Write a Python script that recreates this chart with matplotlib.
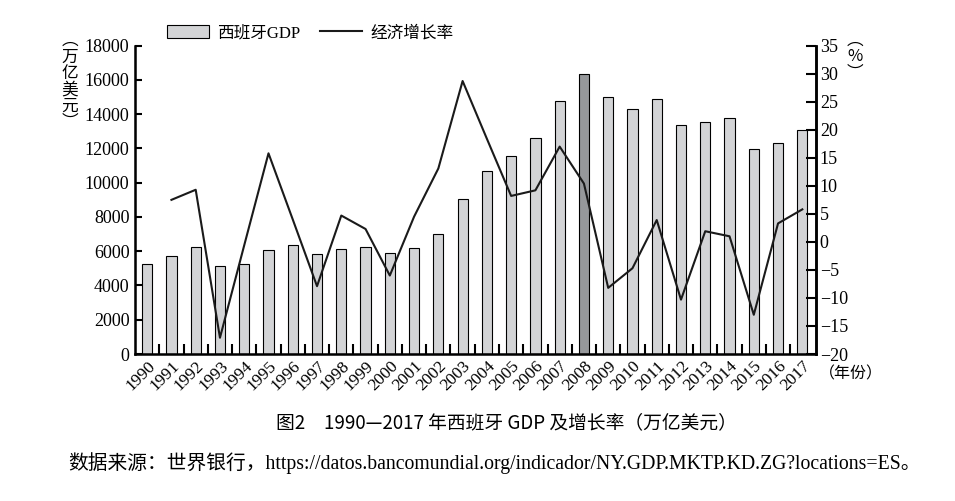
import matplotlib.pyplot as plt
from matplotlib.patches import Patch
from matplotlib.lines import Line2D

plt.rcParams['font.family'] = ['Liberation Serif', 'Noto Sans CJK SC']

years = [str(y) for y in range(1990, 2018)]
gdp = [5250, 5720, 6240, 5130, 5250, 6080, 6360, 5830, 6120, 6240,
       5890, 6180, 7000, 9040, 10670, 11550, 12600, 14750, 16330, 14990,
       14290, 14870, 13360, 13530, 13760, 11960, 12310, 13080]
growth = [None, 7.5, 9.3, -17.1, -0.6, 15.8, 4.0, -7.9, 4.7, 2.3,
          -6.0, 4.5, 13.1, 28.7, 18.4, 8.2, 9.2, 17.0, 10.4, -8.2,
          -4.7, 3.9, -10.3, 1.9, 1.0, -13.0, 3.3, 5.8]
highlight = '2008'

fig = plt.figure(figsize=(9.55, 5.01), dpi=100)
ax = fig.add_axes([0.1414, 0.2934, 0.7127, 0.6154])

x = list(range(len(years)))
colors = ['#96989b' if y == highlight else '#d3d4d6' for y in years]
ax.bar(x, gdp, width=0.42, color=colors, edgecolor='black', linewidth=0.8, zorder=2)
ax.set_xlim(-0.5, 27.55)
ax.set_ylim(0, 18000)
ax.set_yticks(range(0, 18001, 2000))
ax.set_xticks([i + 0.5 for i in range(27)])
ax.set_xticklabels([])
ax.set_xticks(x, minor=True)
ax.set_xticklabels(years, minor=True, rotation=45, ha='right', va='top',
                   rotation_mode='anchor', fontsize=12.5)
ax.tick_params(axis='x', which='major', direction='in', length=7, width=1.5)
ax.tick_params(axis='x', which='minor', length=0, pad=3)
ax.tick_params(axis='y', direction='in', length=5, width=1.5, labelsize=13, pad=4)
ax.spines['top'].set_visible(False)
for s in ['left', 'bottom', 'right']:
    ax.spines[s].set_linewidth(1.8)

ax2 = ax.twinx()
gx = [i for i, v in enumerate(growth) if v is not None]
gy = [v for v in growth if v is not None]
ax2.plot(gx, gy, color='#1a1a1a', linewidth=1.5, zorder=3)
ax2.set_ylim(-20, 35)
ax2.set_yticks(range(-20, 36, 5))
ax2.set_yticklabels([str(t).replace('-', '\u2212') for t in range(-20, 36, 5)])
ax2.tick_params(axis='y', direction='in', length=7, width=1.5, labelsize=13, pad=3)
ax2.spines['top'].set_visible(False)
ax2.spines['right'].set_linewidth(1.8)

cjk = ['Noto Sans CJK SC', 'DejaVu Sans']
fig.text(0.073, 0.936, '︵\n万\n亿\n美\n元\n︶', family=cjk, fontsize=12,
         ha='center', va='top', linespacing=0.95)
fig.text(0.895, 0.936, '︵\n%\n︶', family=cjk, fontsize=12,
         ha='center', va='top', linespacing=0.95)
fig.text(0.857, 0.254, '（年份）', family=cjk, fontsize=11.5, ha='left', va='center')

handles = [Patch(facecolor='#d3d4d6', edgecolor='black', linewidth=0.8),
           Line2D([0], [0], color='#1a1a1a', linewidth=1.5)]
fig.legend(handles, ['西班牙GDP', '经济增长率'], loc='center', ncol=2,
           bbox_to_anchor=(0.325, 0.934), frameon=False, fontsize=12,
           handlelength=2.5, handleheight=0.8, handletextpad=0.5, columnspacing=1.2)

fig.text(0.53, 0.157, '图2　1990—2017 年西班牙 GDP 及增长率（万亿美元）',
         family=cjk, fontsize=13.5, ha='center', va='center')
fig.text(0.071, 0.075,
         '数据来源：世界银行，https://datos.bancomundial.org/indicador/NY.GDP.MKTP.KD.ZG?locations=ES。',
         fontsize=14.2, ha='left', va='center')

fig.savefig('out.png', dpi=100)
